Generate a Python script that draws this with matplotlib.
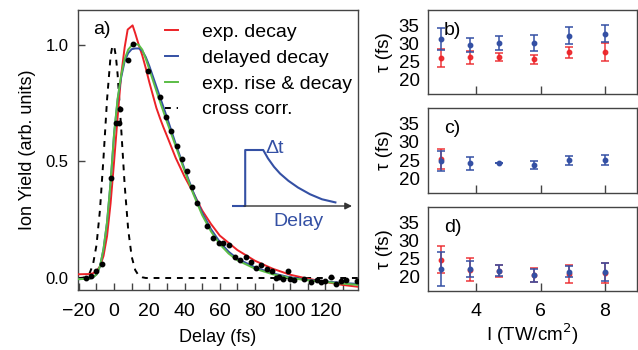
import matplotlib.pyplot as plt
import numpy as np

plt.rcParams['font.family'] = ['Liberation Sans', 'DejaVu Sans']
plt.rcParams['font.size'] = 13

RED = '#ec2227'
BLUE = '#3450a4'
GREEN = '#5bbd45'
FRAME = '#444444'

# ---- panel a: ion yield vs delay ----
t_red = [-20, -14, -12, -10, -8, -6, -4, -2, 0, 2, 4, 6, 7.7, 10.5, 12, 14, 16, 18, 20, 22,
         24, 26, 28, 30, 35, 40, 45, 50, 55, 60, 70, 80, 90, 100, 110, 120, 130, 139]
y_red = [0.016, 0.017, 0.02, 0.03, 0.05, 0.095, 0.18, 0.32, 0.5, 0.69, 0.87, 0.99, 1.066, 1.084,
         1.05, 1.0, 0.955, 0.9, 0.84, 0.785, 0.73, 0.687, 0.647, 0.61, 0.515, 0.435, 0.365, 0.29,
         0.232, 0.182, 0.12, 0.074, 0.04, 0.014, -0.003, -0.017, -0.03, -0.038]

t_grn = [-20, -14, -12, -10, -8, -6, -4, -2, 0, 2, 4, 6, 8, 10, 12, 14, 16, 18, 20, 25, 30, 35,
         40, 45, 50, 55, 60, 65, 70, 80, 90, 100, 110, 120, 130, 139]
y_grn = [-0.005, -0.003, 0.003, 0.015, 0.05, 0.125, 0.24, 0.41, 0.62, 0.77, 0.87, 0.94, 0.98,
         0.998, 1.005, 1.0, 0.98, 0.94, 0.895, 0.78, 0.67, 0.565, 0.46, 0.36, 0.27, 0.2, 0.145,
         0.105, 0.076, 0.04, 0.016, 0.0, -0.01, -0.017, -0.024, -0.03]

t_blu = t_grn
y_blu = [-0.005, -0.003, 0.003, 0.015, 0.05, 0.125, 0.24, 0.41, 0.62, 0.765, 0.86, 0.93, 0.965,
         0.982, 0.985, 0.985, 0.975, 0.948, 0.91, 0.80, 0.69, 0.575, 0.468, 0.368, 0.28, 0.21,
         0.155, 0.113, 0.083, 0.046, 0.02, 0.003, -0.008, -0.015, -0.021, -0.026]

t_xc = [-20, -18, -16, -14, -12, -10, -8, -6, -4, -2, -1, 0, 1, 2, 4, 6, 8, 10, 12, 14, 16, 18, 139]
y_xc = [0.0, 0.001, 0.005, 0.019, 0.057, 0.141, 0.294, 0.518, 0.766, 0.952, 0.995, 0.995, 0.952,
        0.873, 0.644, 0.399, 0.208, 0.091, 0.034, 0.01, 0.003, 0.0, 0.0]

t_dat = [-16, -13, -10, -7, -1.9, 1.3, 2.9, 3.4, 8.0, 11.0, 19.5, 26.1, 29.4, 32.5, 35.6, 38.5,
         41.6, 44.1, 47.0, 53.0, 56.1, 59.3, 62.1, 65.5, 68.4, 71.6, 74.8, 77.7, 80.5, 83.5, 86.8,
         89.6, 92.0, 93.4, 95.9, 98.7, 100.0, 102.3, 108.0, 111.8, 115.5, 117.6, 119.9, 123.1,
         126.0, 128.8, 131.6, 137.9]
y_dat = [0.0, 0.01, 0.03, 0.06, 0.427, 0.663, 0.663, 0.727, 0.935, 1.006, 0.89, 0.777, 0.69,
         0.63, 0.565, 0.51, 0.46, 0.39, 0.32, 0.224, 0.173, 0.149, 0.149, 0.141, 0.089, 0.077,
         0.089, 0.07, 0.041, 0.056, 0.037, 0.03, -0.001, 0.006, -0.004, 0.03, -0.004, -0.009,
         -0.004, -0.016, -0.009, -0.016, -0.012, 0.003, -0.026, -0.013, -0.009, -0.013]

# inset schematic (arbitrary units)
schem_x = [0, 1.1, 1.1, 2.6, 3.0, 3.5, 4.0, 4.7, 5.5, 6.5, 7.5, 8.7]
schem_y = [0, 0, 1, 1, 0.85, 0.7, 0.58, 0.45, 0.33, 0.21, 0.12, 0.06]

# ---- panels b-d: tau vs intensity ----
intensity = [2.9, 3.8, 4.7, 5.8, 6.9, 8.0]
b_blue = [31.1, 29.5, 30.2, 30.0, 32.1, 32.7]
b_blue_err = [3.0, 2.0, 1.95, 2.2, 2.3, 2.45]
b_red = [25.9, 26.2, 26.2, 25.6, 27.5, 27.6]
b_red_err = [2.4, 1.8, 1.15, 1.3, 1.5, 2.5]
c_blue = [24.7, 24.1, 24.2, 23.7, 24.9, 25.1]
c_blue_err = [2.76, 1.8, 0.0, 1.15, 1.2, 1.33]
c_red = [25.3, np.nan, np.nan, np.nan, np.nan, np.nan]
c_red_err = [2.8, 0, 0, 0, 0, 0]
d_blue = [22.1, 22.2, 21.6, 20.4, 21.35, 21.25]
d_blue_err = [4.6, 2.2, 1.5, 1.8, 1.55, 2.35]
d_red = [24.7, 21.85, 21.6, 20.5, 20.7, 20.9]
d_red_err = [3.85, 3.15, 1.6, 1.9, 2.6, 2.8]


def style_frame(ax):
    for s in ax.spines.values():
        s.set_color(FRAME)
        s.set_linewidth(1.0)


def main():
    W, H = 638, 350
    fig = plt.figure(figsize=(6.38, 3.5), dpi=100)

    # panel a
    ax = fig.add_axes([78 / W, 1 - 290 / H, 280 / W, 280 / H])
    ax.plot(t_red, y_red, color=RED, lw=1.4, label='exp. decay', zorder=3)
    ax.plot(t_blu, y_blu, color=BLUE, lw=1.4, label='delayed decay', zorder=4)
    ax.plot(t_grn, y_grn, color=GREEN, lw=1.4, label='exp. rise & decay', zorder=5)
    ax.plot(t_xc, y_xc, color='black', lw=1.4, dashes=(3, 3), label='cross corr.', zorder=2)
    ax.plot(t_dat, y_dat, 'o', color='black', ms=3.2, zorder=6)
    ax.set_xlim(-20.5, 138.5)
    ax.set_ylim(-0.0515, 1.15)
    ax.set_xticks([-20, 0, 20, 40, 60, 80, 100, 120])
    ax.set_xticklabels(['\u221220', '0', '20', '40', '60', '80', '100', '120'])
    ax.set_xticks(np.arange(-10, 140, 20), minor=True)
    ax.set_yticks([0.0, 0.5, 1.0])
    ax.tick_params(which='both', direction='in', length=5, width=1, color=FRAME)
    ax.tick_params(axis='x', which='both', pad=9, labelsize=14)
    ax.tick_params(axis='y', pad=7, labelsize=12)
    ax.set_xlabel('Delay (fs)', labelpad=7)
    ax.set_ylabel('Ion Yield (arb. units)', labelpad=7)
    ax.text(0.054, 0.93, 'a)', transform=ax.transAxes, va='center', ha='left', fontsize=14)
    style_frame(ax)
    ax.legend(loc='upper left', bbox_to_anchor=(0.31, 0.952), frameon=False, fontsize=14,
              handlelength=0.7, handletextpad=1.2, labelspacing=0.42, borderpad=0,
              borderaxespad=0)

    # inset schematic
    ai = fig.add_axes([232 / W, 1 - 206 / H, 120 / W, 56 / H])
    ai.set_xlim(0, 10)
    ai.set_ylim(0, 1)
    ai.axis('off')
    ai.annotate('', xy=(10, 0), xytext=(1.0, 0),
                arrowprops=dict(arrowstyle='-|>', color='#333333', lw=1.0,
                                mutation_scale=10, shrinkA=0, shrinkB=0))
    ai.plot(schem_x, schem_y, color=BLUE, lw=1.5, clip_on=False, solid_capstyle='butt')
    ai.annotate('', xy=(1.1, 1.1), xytext=(2.6, 1.1),
                arrowprops=dict(arrowstyle='<->', color=BLUE, lw=0.9,
                                mutation_scale=6, shrinkA=0, shrinkB=0))
    ai.text(2.8, 1.02, '\u0394t', color=BLUE, fontsize=14, ha='left', va='center')
    ai.text(5.5, -0.27, 'Delay', color=BLUE, fontsize=14, ha='center', va='center')

    # panels b-d
    boxes = [(10, 94), (108, 193), (207, 291)]
    panels = [('b)', b_blue, b_blue_err, b_red, b_red_err),
              ('c)', c_blue, c_blue_err, c_red, c_red_err),
              ('d)', d_blue, d_blue_err, d_red, d_red_err)]
    for i, ((top, bot), (lab, yb, eb, yr, er)) in enumerate(zip(boxes, panels)):
        a = fig.add_axes([428 / W, 1 - bot / H, 209 / W, (bot - top) / H])
        a.errorbar(intensity, yb, yerr=eb, fmt='o', color=BLUE, ms=3.2, elinewidth=1.1,
                   capsize=2.6, capthick=1.1, zorder=3)
        a.errorbar(intensity, yr, yerr=er, fmt='o', color=RED, ms=3.2, elinewidth=1.1,
                   capsize=2.6, capthick=1.1, alpha=0.9, zorder=2)
        a.set_xlim(2.5, 9.0)
        a.set_ylim(16, 39.2)
        a.set_yticks([20, 25, 30, 35])
        a.set_xticks([4, 6, 8])
        a.tick_params(axis='x', direction='in', length=6, width=1, color=FRAME, pad=9,
                      labelsize=14)
        a.tick_params(axis='y', length=0, pad=6, labelsize=13.5)
        a.set_ylabel('\u03c4 (fs)', labelpad=4, fontsize=13.5)
        a.text(0.075, 0.76, lab, transform=a.transAxes, va='center', ha='left', fontsize=14)
        if i < 2:
            a.set_xticklabels([])
        else:
            a.set_xlabel('I (TW/cm$^2$)', labelpad=1, fontsize=13.5)
        style_frame(a)

    fig.savefig('out.png', dpi=100)


if __name__ == '__main__':
    main()
